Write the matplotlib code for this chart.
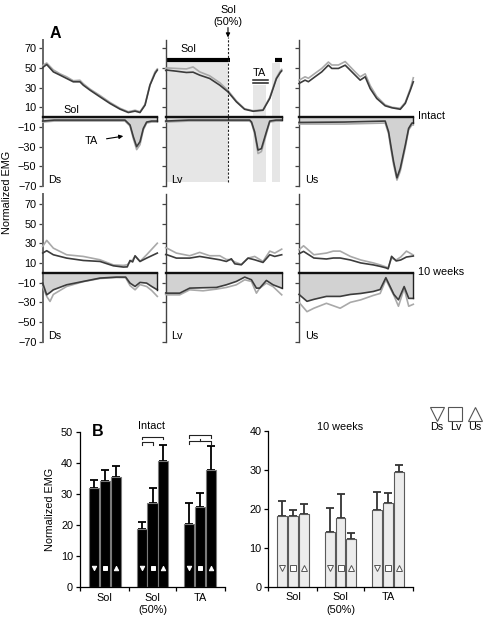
import numpy as np
import matplotlib.pyplot as plt

plt.rcParams['font.family'] = ['Liberation Sans', 'DejaVu Sans']
plt.rcParams['font.size'] = 7.8

# ---------------- panel A: EMG traces (x = % of step cycle) ----------------
# intact, Ds
int_ds_pos_x = [0, 0.6, 3.5, 9.3, 15.1, 20.9, 26.7, 32.5, 35.4, 41.3, 50, 58.7, 67.5, 74.7, 80.6, 84.9, 89.3, 93.6, 98, 100]
int_ds_pos_dark = [50, 51, 53.5, 46, 42.7, 39.3, 35.9, 35.9, 32.5, 27.4, 20.6, 13.9, 8.1, 4.7, 6.1, 4.7, 12.2, 32.5, 44.4, 47.8]
int_ds_pos_light = [52, 53, 55, 48, 44, 41, 37, 37.5, 34, 28.5, 22, 15, 9, 5.5, 7, 5.5, 13, 33, 46, 49]
int_ds_neg_x = [0, 10, 30, 50, 65, 71.8, 76.2, 79.1, 82, 84.9, 87.8, 90.7, 95, 100]
int_ds_neg_dark = [-4, -3, -3, -3, -3, -3, -8, -20, -30, -25, -11.5, -5, -4, -4]
int_ds_neg_light = [-5, -4, -4, -4, -4, -4, -9, -22, -33, -28, -13, -6, -5, -5]

# intact, Lv
int_lv_pos_x = [0, 1.1, 9.2, 17.8, 23.6, 29.3, 37.9, 46.6, 53.7, 60.9, 68, 75.3, 83.9, 89.7, 95.4, 98.8, 100]
int_lv_pos_dark = [47.5, 47.8, 46.7, 45.4, 45.7, 42.7, 39.3, 32.5, 25.7, 15.6, 8, 6, 7, 19, 39, 45.4, 47]
int_lv_pos_light = [49.5, 50, 49.5, 49, 51, 46, 42, 35, 27, 16.5, 8.5, 6.5, 7.5, 20, 40, 47, 48.5]
int_lv_neg_x = [0, 20, 50, 72.4, 74, 76.7, 79.6, 82.5, 86.8, 89.7, 95, 100]
int_lv_neg_dark = [-4, -3, -3, -3, -5, -15, -33.5, -32, -15, -4, -3, -3]
int_lv_neg_light = [-5, -4, -4, -4, -6, -17, -37, -35, -17, -5, -4, -4]

# intact, Us
int_us_pos_x = [0, 5.3, 8.2, 14, 19.9, 25.7, 28.7, 34.5, 40.4, 43.3, 49.1, 53.5, 57.9, 62.3, 68, 75.4, 81.3, 88.6, 93, 97.4, 100]
int_us_pos_dark = [34.2, 37.6, 36, 41, 46, 52.8, 49.5, 49.5, 52.8, 49.5, 42.7, 37.6, 41, 29, 19, 11.5, 9.5, 8, 14, 27.4, 35.9]
int_us_pos_light = [37.5, 41, 39.5, 44.5, 49.5, 56, 53, 53, 56.5, 53, 46, 41, 44, 32, 21, 12.5, 10, 9, 15, 29, 40]
int_us_neg_x = [0, 40, 75.4, 78.4, 80.5, 82.7, 85.7, 88.6, 93, 95.9, 98.8, 100]
int_us_neg_dark = [-5.4, -5, -4, -15, -30, -45, -61.7, -52, -28.5, -11.5, -6, -6]
int_us_neg_light = [-7, -7, -6, -17, -33, -48, -64, -55, -31, -13, -8, -8]

# 10 weeks, Ds
wk_ds_pos_x = [0, 3.5, 9.3, 20.9, 35.4, 50, 61.6, 70.4, 73.8, 76.2, 78.5, 80.6, 84.9, 90.7, 100]
wk_ds_pos_dark = [20, 22.4, 18.3, 14.9, 12.5, 11.5, 7.1, 5.8, 6, 12.5, 11, 17.3, 11.5, 14.9, 20]
wk_ds_pos_light = [26.8, 32.9, 25, 18.3, 16.6, 13.2, 8, 7.5, 8.1, 11, 13.2, 16.6, 11.5, 18.3, 30]
wk_ds_neg_x = [0, 3.5, 6.4, 9.3, 20.9, 35.4, 50, 64.5, 72.4, 76.2, 80.6, 84.9, 90.7, 95.1, 100]
wk_ds_neg_dark = [-10.5, -22.4, -20, -17.3, -12.2, -8.8, -5.4, -4.4, -4.4, -10.5, -13.9, -9.8, -10.5, -13.9, -17.3]
wk_ds_neg_light = [-13.9, -24, -29.1, -22, -13.9, -9, -5.8, -4.8, -5, -13, -17.3, -12, -13.9, -18, -24]

# 10 weeks, Lv
wk_lv_pos_x = [0, 1.1, 9.2, 20.7, 29.3, 37.9, 46.6, 52.3, 56.6, 59.5, 65.2, 71, 76.7, 83.9, 89.7, 94, 100]
wk_lv_pos_dark = [18.5, 18.3, 14.9, 14.9, 16.6, 14.9, 13.2, 11.5, 14.2, 9.1, 8.1, 14.9, 13.2, 10.5, 18.3, 16.6, 18.3]
wk_lv_pos_light = [25.5, 25, 20, 17.3, 20.7, 17.3, 17.3, 13.5, 13.2, 11, 8.5, 14.9, 16.6, 11.5, 22, 20, 24]
wk_lv_neg_x = [0, 1.1, 12.1, 20.7, 32.2, 43.7, 52.3, 60.9, 68.1, 73.9, 78.2, 81, 86.8, 92.5, 100]
wk_lv_neg_dark = [-20.5, -20.7, -20.7, -15.6, -15.2, -14.9, -12.2, -8.8, -4.4, -7.1, -15.6, -15.6, -7.8, -12.2, -15.6]
wk_lv_neg_light = [-22, -22.4, -22.4, -17.3, -18.3, -16.6, -14.9, -12.2, -7.1, -8.8, -20.7, -15.6, -10.5, -14, -22.4]

# 10 weeks, Us
wk_us_pos_x = [0, 4, 13, 24, 30, 36, 45, 54, 65, 71, 76, 78, 81, 85, 89, 94, 100]
wk_us_pos_dark = [19.3, 21.7, 15, 14, 15, 15, 13, 10, 8, 6.5, 5, 4, 16.7, 12, 13, 16, 17]
wk_us_pos_light = [23.4, 27.4, 18.3, 20, 22, 22, 16.6, 13, 10, 8, 6, 5, 15, 13, 16, 22, 18]
wk_us_neg_x = [0, 7, 13, 24, 36, 45, 54, 65, 71, 76, 83, 87, 92, 96, 100]
wk_us_neg_dark = [-22, -29, -27, -24, -24, -22, -21, -19, -17, -5, -22, -27.5, -14, -26, -26]
wk_us_neg_light = [-30, -39.5, -36, -31, -36, -30, -27.5, -23, -21, -7, -23, -34, -16, -34, -32]

# ---------------- panel B: mean normalized EMG ----------------
groups = ['Sol', 'Sol\n(50%)', 'TA']
intact_ds = [31.9, 18.6, 20.3]
intact_lv = [34.3, 27.1, 25.7]
intact_us = [35.6, 40.7, 37.8]
intact_ds_err = [2.6, 2.5, 6.7]
intact_lv_err = [3.5, 4.8, 4.5]
intact_us_err = [3.4, 5.0, 7.5]
weeks_ds = [18.2, 14.1, 19.8]
weeks_lv = [18.1, 17.6, 21.4]
weeks_us = [18.8, 12.3, 29.5]
weeks_ds_err = [3.7, 6.0, 4.5]
weeks_lv_err = [1.6, 6.2, 2.8]
weeks_us_err = [2.4, 1.6, 1.7]

W, H = 491, 618
fig = plt.figure(figsize=(W / 100, H / 100), dpi=100)


def box(x0, y0, x1, y1):
    # pixel box -> figure fraction
    return [x0 / W, 1 - y1 / H, (x1 - x0) / W, (y1 - y0) / H]


DARK = '#3c3c3c'
LIGHT = '#a9a9a9'
FILL = '#d2d2d2'


def emg_panel(ax, px, pd_, pl, nx, nd, nl, name, ytop, labels):
    ax.fill_between(nx, 0, nd, facecolor=FILL, edgecolor='none', zorder=2, clip_on=False)
    ax.plot(nx, nl, color=LIGHT, lw=1.2, zorder=3, clip_on=False)
    ax.plot(nx, nd, color=DARK, lw=1.2, zorder=4, clip_on=False)
    ax.plot([nx[-1], nx[-1]], [0, nd[-1]], color='#222222', lw=1.0, zorder=4, clip_on=False)
    ax.plot([0, 100], [0, 0], color='#111111', lw=1.7, zorder=5, clip_on=False)
    ax.plot(px, pl, color=LIGHT, lw=1.2, zorder=3, clip_on=False)
    ax.plot(px, pd_, color=DARK, lw=1.2, zorder=4, clip_on=False)
    ax.set_xlim(0, 100)
    ax.set_ylim(-70, ytop)
    ax.set_yticks(np.arange(-70, 71, 20))
    if not labels:
        ax.set_yticklabels([])
    ax.set_xticks([])
    for s in ['top', 'right', 'bottom']:
        ax.spines[s].set_visible(False)
    ax.spines['left'].set_color('#666666' if labels else '#444444')
    ax.spines['left'].set_linewidth(1.4 if labels else 1.0)
    ax.tick_params(axis='y', direction='out', length=3, width=0.9, color='#444444', pad=1.5)
    ax.patch.set_alpha(0)
    ax.text(5, -64, name, va='center', ha='left')


top_rows = [
    (box(42.7, 40, 157.3, 186), int_ds_pos_x, int_ds_pos_dark, int_ds_pos_light, int_ds_neg_x, int_ds_neg_dark, int_ds_neg_light, 'Ds', True),
    (box(165.7, 40, 281.7, 186), int_lv_pos_x, int_lv_pos_dark, int_lv_pos_light, int_lv_neg_x, int_lv_neg_dark, int_lv_neg_light, 'Lv', False),
    (box(299, 40, 413.3, 186), int_us_pos_x, int_us_pos_dark, int_us_pos_light, int_us_neg_x, int_us_neg_dark, int_us_neg_light, 'Us', False),
]
bot_rows = [
    (box(42.7, 194, 157.3, 341.7), wk_ds_pos_x, wk_ds_pos_dark, wk_ds_pos_light, wk_ds_neg_x, wk_ds_neg_dark, wk_ds_neg_light, 'Ds', True),
    (box(165.7, 194, 281.7, 341.7), wk_lv_pos_x, wk_lv_pos_dark, wk_lv_pos_light, wk_lv_neg_x, wk_lv_neg_dark, wk_lv_neg_light, 'Lv', False),
    (box(299, 194, 413.3, 341.7), wk_us_pos_x, wk_us_pos_dark, wk_us_pos_light, wk_us_neg_x, wk_us_neg_dark, wk_us_neg_light, 'Us', False),
]

axes_top = []
for r in top_rows:
    ax = fig.add_axes(r[0])
    emg_panel(ax, *r[1:8], 78.4, r[8])
    axes_top.append(ax)
for r in bot_rows:
    ax = fig.add_axes(r[0])
    emg_panel(ax, *r[1:8], 80, r[8])

# annotations on intact Ds
ax = axes_top[0]
ax.text(25.3, 7, 'Sol', ha='center', va='center')
ax.annotate('TA', xy=(70.3, -19.3), xytext=(42.7, -24.4), ha='center', va='center',
            arrowprops=dict(arrowstyle='-|>', color='black', lw=0.8, mutation_scale=6, shrinkA=4, shrinkB=0))

# shaded epochs and bars on intact Lv
ax = axes_top[1]
SHADE = '#e6e6e6'
ax.fill_between([0, 53.7], -66, 57, color=SHADE, lw=0, zorder=0)
ax.fill_between([75.3, 86.8], -66, 33, color=SHADE, lw=0, zorder=0)
ax.fill_between([92, 98.8], -66, 55, color=SHADE, lw=0, zorder=0)
ax.plot([0.5, 55], [58, 58], color='black', lw=3, solid_capstyle='butt', clip_on=False)
ax.plot([94.5, 100], [58, 58], color='black', lw=3, solid_capstyle='butt', clip_on=False)
ax.plot([75.3, 88.2], [37.6, 37.6], color='#222222', lw=1.1)
ax.plot([75.3, 88.2], [35.2, 35.2], color='#222222', lw=1.1)
ax.text(19.2, 69.5, 'Sol', ha='center', va='center')
ax.text(81, 44.5, 'TA', ha='center', va='center')
ax.plot([53.7, 53.7], [-66, 81], color='#222222', lw=0.8, ls=(0, (2, 1.5)), clip_on=False, zorder=6)
ax.annotate('', xy=(53.7, 81), xytext=(53.7, 91), annotation_clip=False,
            arrowprops=dict(arrowstyle='-|>', color='black', lw=0.8, mutation_scale=6, shrinkA=0, shrinkB=0))
ax.text(53.7, 92, 'Sol\n(50%)', ha='center', va='bottom', linespacing=1.2, clip_on=False)

# ---------------- panel B ----------------
offsets = [-0.225, 0.0, 0.225]
bar_w = 0.21
xg = np.arange(len(groups))


def bar_panel(ax, vals, errs, face, edge, ecol, mcol, mface, mval, ytop, ms):
    for i, (v, e) in enumerate(zip(vals, errs)):
        xs = xg + offsets[i]
        ax.bar(xs, v, width=bar_w, color=face, edgecolor=edge, linewidth=0.8, zorder=2)
        ax.errorbar(xs, v, yerr=[np.zeros(3), e], fmt='none', ecolor=ecol, elinewidth=1.3,
                    capsize=2.6, capthick=1.3, zorder=1)
    for i, m in enumerate(['v', 's', '^']):
        ax.plot(xg + offsets[i], [mval] * 3, ls='none', marker=m, ms=ms,
                mfc=mface, mec=mcol, mew=0.7, zorder=3)
    ax.set_xlim(-0.52, 2.52)
    ax.set_ylim(0, ytop)
    ax.set_yticks(np.arange(0, ytop + 1, 10))
    ax.set_xticks(xg)
    ax.set_xticklabels(groups, linespacing=1.3)
    ax.set_xticks([-0.52, 0.5, 1.5, 2.52], minor=True)
    ax.tick_params(axis='x', which='major', length=0, pad=4)
    ax.tick_params(axis='x', which='minor', length=3, width=0.9, direction='out')
    ax.tick_params(axis='y', length=3, width=0.9, direction='out', pad=2)
    for s in ['top', 'right']:
        ax.spines[s].set_visible(False)
    for s in ['left', 'bottom']:
        ax.spines[s].set_linewidth(0.9)


axb1 = fig.add_axes(box(80, 431.7, 225, 587.3))
bar_panel(axb1, [intact_ds, intact_lv, intact_us], [intact_ds_err, intact_lv_err, intact_us_err],
          'black', '#7a7a7a', 'black', 'white', 'white', 6.1, 50, 3.2)
axb1.set_ylabel('Normalized EMG', labelpad=4)
axb1.text(0.08, 1.0, 'B', transform=axb1.transAxes, fontsize=11.5, fontweight='bold', va='center', ha='left')


def bracket(ax, x0, x1, y, tick=0.9, mid=None):
    ax.plot([x0, x0, x1, x1], [y - tick, y, y, y - tick], color='#222222', lw=0.8, clip_on=False)
    if mid is not None:
        ax.plot([mid, mid], [y, y + tick * 0.6], color='#222222', lw=0.8, clip_on=False)


bracket(axb1, 1 + offsets[0], 1 + offsets[2], 48.4)
bracket(axb1, 1 + offsets[0], 1 + offsets[1], 46.6)
bracket(axb1, 2 + offsets[0], 2 + offsets[2], 48.9)
bracket(axb1, 2 + offsets[0], 2 + offsets[2], 47.0, mid=2 + offsets[1])

axb2 = fig.add_axes(box(268.3, 431, 412.7, 586.7))
bar_panel(axb2, [weeks_ds, weeks_lv, weeks_us], [weeks_ds_err, weeks_lv_err, weeks_us_err],
          '#ececec', '#5a5a5a', '#333333', '#555555', 'white', 4.7, 40, 3.8)

# ---------------- overlay texts in pixel space ----------------
ov = fig.add_axes([0, 0, 1, 1])
ov.set_xlim(0, W)
ov.set_ylim(H, 0)
ov.axis('off')
ov.patch.set_alpha(0)
ov.text(50, 33, 'A', fontsize=11.5, fontweight='bold', ha='left', va='center')
ov.text(7, 192, 'Normalized EMG', rotation=90, ha='center', va='center')
ov.text(418, 116, 'Intact', ha='left', va='center')
ov.text(418, 272, '10 weeks', ha='left', va='center')
ov.text(151.7, 426, 'Intact', ha='center', va='center')
ov.text(340, 426.7, '10 weeks', ha='center', va='center')
for xm, m, lab in [(436.7, 'v', 'Ds'), (455.5, 's', 'Lv'), (475, '^', 'Us')]:
    ov.plot([xm], [413.5], marker=m, ms=9.5, mfc='white', mec='#555555', mew=0.8, ls='none')
    ov.text(xm, 427.5, lab, ha='center', va='center')

fig.savefig('out.png', dpi=100)
